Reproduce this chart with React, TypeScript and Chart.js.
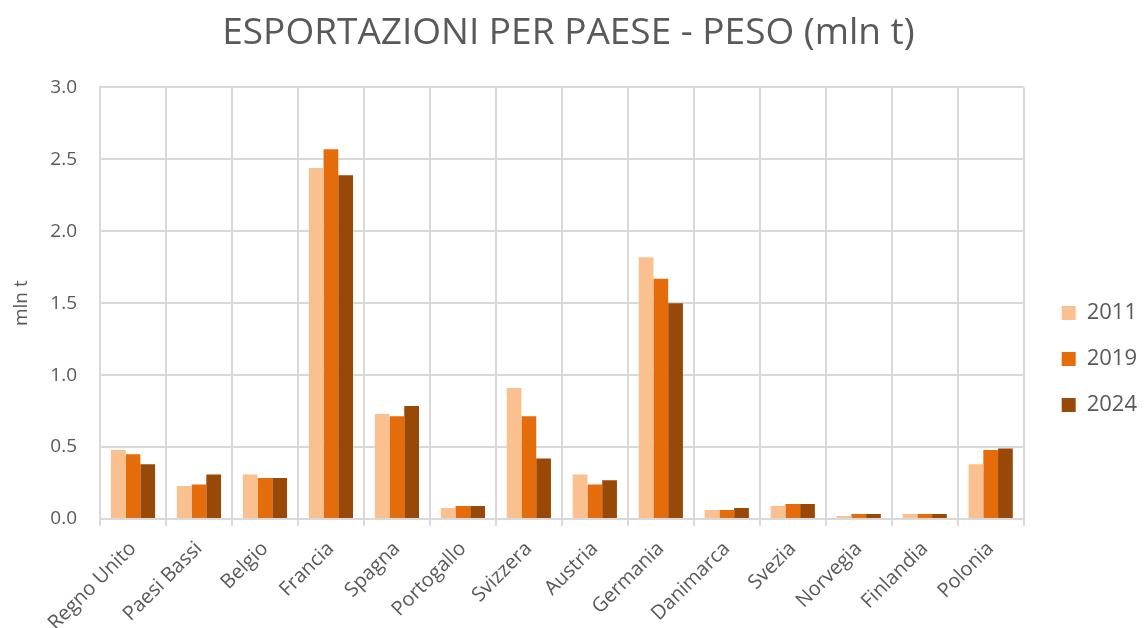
import React, { useEffect, useRef } from "react";
import { Chart, registerables } from "chart.js";

Chart.register(...registerables);

const categories = [
  "Regno Unito", "Paesi Bassi", "Belgio", "Francia", "Spagna", "Portogallo", "Svizzera",
  "Austria", "Germania", "Danimarca", "Svezia", "Norvegia", "Finlandia", "Polonia",
];
const values2011 = [0.48, 0.23, 0.31, 2.44, 0.73, 0.076, 0.91, 0.31, 1.82, 0.063, 0.09, 0.02, 0.035, 0.38];
const values2019 = [0.45, 0.24, 0.285, 2.57, 0.715, 0.09, 0.715, 0.24, 1.67, 0.063, 0.104, 0.035, 0.035, 0.48];
const values2024 = [0.38, 0.31, 0.285, 2.39, 0.785, 0.09, 0.42, 0.27, 1.5, 0.076, 0.104, 0.035, 0.035, 0.49];
const seriesLabels = ["2011", "2019", "2024"];
const yTicks = [0, 0.5, 1, 1.5, 2, 2.5, 3];

const colors = ["#FAC090", "#E46C0A", "#984807"];
const FONT = "'Open Sans', Lato, sans-serif";
const TEXT = "#595959";

const LEGEND_DX = 14;
const LEGEND_DY = 43;

const legendShift = {
  id: "legendShift",
  afterLayout(chart: any) {
    const l = chart.legend;
    if (!l) return;
    l.left += LEGEND_DX;
    l.right += LEGEND_DX;
    l.top += LEGEND_DY;
    l.bottom += LEGEND_DY;
  },
};

export default function App() {
  const ref = useRef<HTMLCanvasElement | null>(null);
  useEffect(() => {
    document.body.style.margin = "0";
    const ctx = ref.current!;
    const chart = new Chart(ctx, {
      type: "bar",
      data: {
        labels: categories,
        datasets: [values2011, values2019, values2024].map((d, i) => ({
          label: seriesLabels[i],
          data: d,
          backgroundColor: colors[i],
          borderWidth: 0,
          categoryPercentage: 0.67,
          barPercentage: 1,
        })),
      },
      plugins: [legendShift],
      options: {
        animation: false,
        responsive: false,
        maintainAspectRatio: false,
        layout: { padding: { left: 4, right: 11, top: 4, bottom: 0 } },
        plugins: {
          title: {
            display: true,
            text: "ESPORTAZIONI PER PAESE - PESO (mln t)",
            color: TEXT,
            font: { family: FONT, size: 37, weight: "normal" },
            padding: { top: 7, bottom: 32 },
          },
          legend: {
            position: "right",
            labels: {
              color: TEXT,
              font: { family: FONT, size: 22 },
              boxWidth: 14,
              boxHeight: 14,
              padding: 24,
            },
          },
          tooltip: { enabled: false },
        },
        scales: {
          x: {
            grid: { color: "#d9d9d9", lineWidth: 2, tickLength: 7, offset: true },
            border: { color: "#d9d9d9", width: 2 },
            ticks: {
              color: TEXT,
              font: { family: FONT, size: 20 },
              maxRotation: 45,
              minRotation: 45,
              padding: 11,
            },
            afterFit: (s: any) => {
              s.height = 109;
            },
          },
          y: {
            min: 0,
            max: 3,
            afterBuildTicks: (axis: any) => {
              axis.ticks = yTicks.map((v) => ({ value: v }));
            },
            afterFit: (s: any) => {
              s.width = 96;
            },
            grid: { color: "#d9d9d9", lineWidth: 2, drawTicks: false },
            border: { color: "#d9d9d9", width: 2 },
            title: {
              display: true,
              text: "mln t",
              color: TEXT,
              font: { family: FONT, size: 19 },
              padding: { top: 6, bottom: 0 },
            },
            ticks: {
              color: TEXT,
              font: { family: FONT, size: 19 },
              padding: 23,
              callback: (v: any) => Number(v).toFixed(1),
            },
          },
        },
      },
    });
    return () => chart.destroy();
  }, []);
  return (
    <div style={{ width: 1144, height: 628 }}>
      <canvas ref={ref} width={1144} height={628} style={{ display: "block" }} />
    </div>
  );
}
